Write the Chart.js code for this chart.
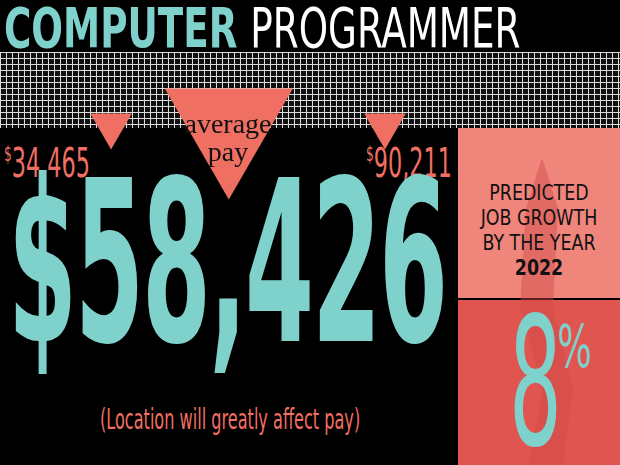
<!DOCTYPE html>
<html><head><meta charset="utf-8">
<script src="https://cdn.jsdelivr.net/npm/chart.js@4"></script>
<style>
body{margin:0;width:620px;height:465px;background:#000;overflow:hidden;position:relative;font-family:"DejaVu Sans Condensed","Liberation Sans Narrow",sans-serif}
.abs{position:absolute;white-space:nowrap;line-height:1}
#grid{position:absolute;left:0;top:52px;width:620px;height:76px;
background-image:linear-gradient(#ddd 1px,transparent 1px),linear-gradient(90deg,#ddd 1px,transparent 1px);background-size:6px 6px;background-color:#111}
#p1{position:absolute;left:458px;top:128px;width:162px;height:170px;background:#f0857c}
#p2{position:absolute;left:458px;top:300px;width:162px;height:165px;background:#e05550}
canvas{position:absolute;left:0;top:-107px}
</style></head><body>
<div class="abs" style="left:4px;top:0px;font-size:56px;font-weight:bold;color:#7fd1cc;transform:scaleX(0.74);transform-origin:left">COMPUTER <span style="color:#fff;font-weight:normal">PROGRAMMER</span></div>
<div id="grid"></div>
<div id="p1"></div><div id="p2"></div>
<svg class="abs" style="left:458px;top:128px" width="162" height="337"><path d="M84 30 L100 80 L95 180 L115 260 L105 337 L70 337 L85 260 L62 180 L68 80 Z" fill="#d04a48" opacity="0.45"/></svg>
<div class="abs" style="left:460px;top:180px;width:158px;text-align:center;font-size:22px;line-height:25px;color:#111;transform:scaleX(0.88)">PREDICTED<br>JOB GROWTH<br>BY THE YEAR<br><b>2022</b></div>
<div class="abs" style="left:509px;top:294px;font-size:178px;color:#7fd1cc;transform:scaleX(0.52);transform-origin:left">8</div>
<div class="abs" style="left:557px;top:318px;font-size:58px;color:#7fd1cc;transform:scaleX(0.7);transform-origin:left">%</div>
<div class="abs" style="left:4px;top:143px;font-size:40px;color:#ef6f62;transform:scaleX(0.62);transform-origin:left"><span style="font-size:22px;vertical-align:top">$</span>34,465</div>
<div class="abs" style="left:366px;top:143px;font-size:40px;color:#ef6f62;transform:scaleX(0.62);transform-origin:left"><span style="font-size:22px;vertical-align:top">$</span>90,211</div>
<div class="abs" style="left:8px;top:151px;font-size:225px;font-weight:bold;color:#7fd1cc;transform:scaleX(0.49);transform-origin:left;letter-spacing:-4px">$58,426</div>
<div class="abs" style="left:100px;top:406px;font-size:28px;color:#ef6f62;transform:scaleX(0.64);transform-origin:left">(Location will greatly affect pay)</div>
<canvas id="c" width="620" height="465"></canvas>
<div class="abs" style="left:183px;top:110px;width:90px;text-align:center;font-family:'Liberation Serif',serif;font-size:28px;line-height:28px;color:#111">average<br>pay</div>
<script>
const payLabels=["low","average","high"];
const payValues=[34465,58426,90211];
const markerSizes=[24,74,24];
new Chart(document.getElementById('c'),{
 type:'scatter',
 data:{labels:payLabels,datasets:[{data:payValues.map(v=>({x:v,y:0})),pointStyle:'triangle',rotation:180,
  pointRadius:markerSizes,pointHoverRadius:markerSizes,backgroundColor:'#ef6f62',borderColor:'#ef6f62',borderWidth:0}]},
 options:{responsive:false,animation:false,events:[],
  layout:{padding:0},
  plugins:{legend:{display:false},tooltip:{enabled:false}},
  scales:{x:{type:'linear',min:26920,max:122990,display:false},
          y:{min:-1,max:1,display:false}}}
});
</script>
</body></html>
